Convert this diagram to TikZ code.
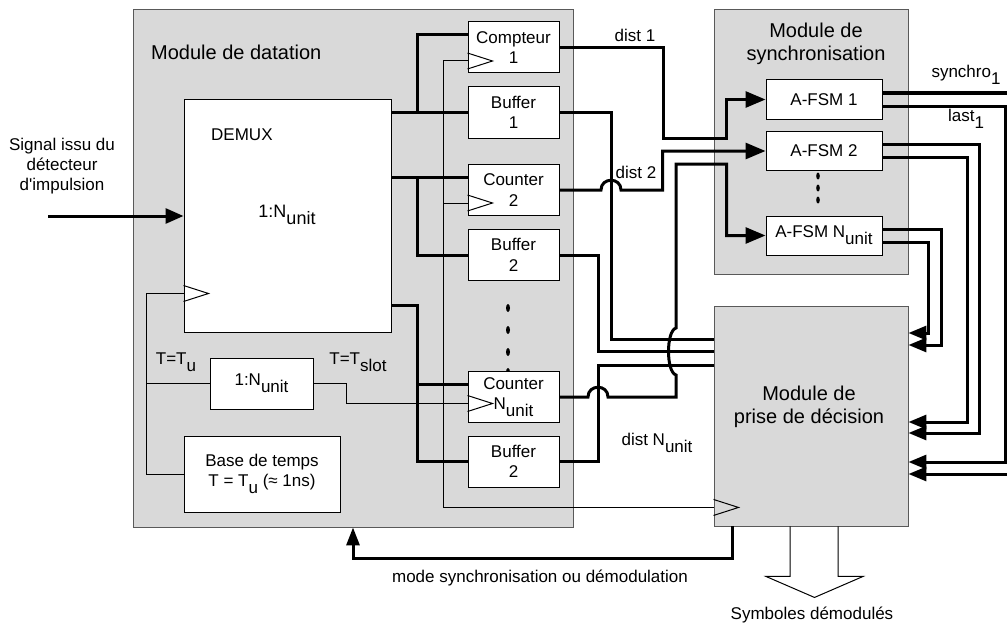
\documentclass[tikz,border=0pt]{standalone}
\usepackage{fontspec}
\setmainfont{Liberation Sans}
\usetikzlibrary{arrows.meta, calc, math}

\newcommand{\dn}[1]{\raisebox{-0.42em}{#1}}

\tikzset{
  module/.style={draw=black!65, fill=gray!30, line width=0.9pt, inner sep=0pt},
  blk/.style={draw, fill=white, line width=1pt, inner sep=0pt, align=center,
    font=\fontsize{17}{20.5}\selectfont},
  cell/.style={blk, minimum width=91pt, minimum height=51pt},
  fsm/.style={blk, minimum width=116pt, minimum height=39pt},
  txt/.style={align=center, inner sep=0pt, font=\fontsize{17}{20}\selectfont},
  ttl/.style={align=center, inner sep=0pt, font=\fontsize{20}{23.5}\selectfont},
  bus/.style={line width=3pt},
  wire/.style={line width=1pt},
  tipA/.style={-{Triangle[length=20pt,width=16pt]}},
  tipB/.style={-{Triangle[length=18pt,width=14pt]}},
  pics/clktri/.style={code={\draw[wire] (0,-8) -- (25,0) -- (0,8);}},
}

\begin{document}
\begin{tikzpicture}[x=1pt, y=-1pt]
\tikzmath{
\xa=417;
\xc=443;
\xl=146;
}
\useasboundingbox (0,0) rectangle (1007,626);

\coordinate (xa) at (\xa,0);
\coordinate (xc) at (\xc,0);
\coordinate (xl) at (\xl,0);

% modules
\node[module, minimum width=440pt, minimum height=518pt] (dat) at (353,268) {};
\node[module, minimum width=194pt, minimum height=265pt] (sync) at (811,141.5) {};
\node[module, minimum width=194pt, minimum height=220pt] (dec) at (811,416) {};

\node[ttl, anchor=west] (datT) at (151,52) {Module de datation};
\node[ttl] (syncT) at (816,44) {Module de\\synchronisation};
\node[ttl] (decT) at (809,407) {Module de\\prise de décision};

\foreach \y in {308,330,352,372} \fill (508,\y) ellipse (2 and 4);
\foreach \y in {176,188,200} \fill (818,\y) ellipse (1.8 and 3.5);

\node[blk, minimum width=207pt, minimum height=233pt] (demux) at (287.5,215.5) {};
\node[txt, anchor=west] (demuxT) at (211,135) {DEMUX};
\node[txt, font=\fontsize{18}{21}\selectfont] (demuxR) at (287,215) {1:N\dn{unit}};
\node[blk, minimum width=103pt, minimum height=51pt] (div) at (261.5,383.5) {1:N\dn{unit}};
\node[blk, minimum width=156pt, minimum height=76pt] (base) at (262,474) {Base de temps\\T = T\dn{u} (≈ 1ns)};

\node[cell] (cnt1) at (513.5,47.5) {Compteur\\1};
\node[cell] (buf1) at (513.5,112.5) {Buffer\\1};
\node[cell] (cnt2) at (513.5,190) {Counter\\2};
\node[cell] (buf2) at (513.5,255) {Buffer\\2};
\node[cell] (cntN) at (513.5,397) {Counter\\N\dn{unit}};
\node[cell] (bufN) at (513.5,461.5) {Buffer\\2};

\node[fsm] (fsm1) at (824,99.5) {A-FSM 1};
\node[fsm] (fsm2) at (824,151) {A-FSM 2};
\node[fsm] (fsmN) at (824,235.5) {A-FSM N\dn{unit}};

\node[txt] (sig) at (62,166) {Signal issu du\\détecteur\\d\textquotesingle impulsion};
\node[txt] (tu) at (176,362) {T=T\dn{u}};
\node[txt] (tslot) at (358,362) {T=T\dn{slot}};
\node[txt] (d1) at (635,35) {dist 1};
\node[txt] (d2) at (636,172) {dist 2};
\node[txt] (dN) at (657,443) {dist N\dn{unit}};
\node[txt] (s1) at (966,75) {synchro\dn{1}};
\node[txt] (l1) at (966,119) {last\dn{1}};
\node[txt] (mode) at (540,578) {mode synchronisation ou démodulation};
\node[txt] (sym) at (812,615) {Symboles démodulés};

% clocks
\coordinate (demuxC) at ($(demux.south west)+(0,-39)$);
\coordinate (decC) at ($(dec.south west)+(0,-19)$);
\pic at (demuxC) {clktri};
\pic at (decC) {clktri};
\foreach \n/\o in {cnt1/13.5, cnt2/13, cntN/6.5}{
  \coordinate (\n in) at ($(\n.west)+(0,-13)$);
  \coordinate (\n ck) at ($(\n.west)+(0,\o)$);
  \pic at (\n ck) {clktri};
}

\coordinate (in) at (48,216);
\draw[bus, -{Triangle[length=18pt,width=15pt]}] (in) -- (in -| demux.west);
\draw[wire] (demuxC) -| (xl |- base) -- (base.west);
\draw[wire] (div.west) -- (div.west -| xl);
\draw[wire] (div.east) -- ++(33,0) |- (cntNck);
\draw[wire] (cnt1ck) -| (xc |- decC) -- (decC);
\draw[wire] (cnt2ck) -- (cnt2ck -| xc);

% demux outputs
\draw[bus] (demux.east |- buf1) -- (buf1.west);
\draw[bus] (buf1.west -| xa) |- (cnt1in);
\draw[bus] (demux.east |- cnt2in) -- (cnt2in);
\draw[bus] (cnt2in -| xa) |- (buf2.west);
\coordinate (dout) at ($(demux.south east)+(0,-27)$);
\draw[bus] (dout) -| (xa |- bufN) -- (bufN.west);
\draw[bus] (cntNin -| xa) -- (cntNin);

% dist
\draw[bus, tipA] (cnt1.east) -| (663,138) -| ($(fsm1.west)+(-39,0)$) -- (fsm1.west);
\draw[bus, tipA] (cnt2.east) -- (601,190) .. controls (601,177) and (621,177) .. (621,190)
  -| ($(fsm2.west)+(-103,0)$) -- (fsm2.west);
\draw[bus, tipA] (cntN.east) -- (588,397) .. controls (588,384) and (608,384) .. (608,397)
  -- (676,397) -- (676,375) .. controls (666,372) and (666,331) .. (676,328)
  -- (676,164) -| ($(fsmN.west)+(-39,0)$) -- (fsmN.west);
\draw[bus] (buf1.east) -| (611,339) -- (dec.west |- 0,339);
\draw[bus] (buf2.east) -| (598,351) -- (dec.west |- 0,351);
\draw[bus] (bufN.east) -| (598,365) -- (dec.west |- 0,365);

% synchro / last
\coordinate (sOut) at (1007,93);
\coordinate (sIn) at (1007,474);
\draw[bus] (fsm1.east |- sOut) -- (sOut);
\draw[bus, tipB] ($(fsm1.east)+(0,6.5)$) -| (1005,462) -- (dec.east |- 0,462);
\draw[bus, tipB] (sIn) -- (dec.east |- sIn);
\draw[bus, tipB] ($(fsm2.east)+(0,-6.5)$) -| (979,433) -- (dec.east |- 0,433);
\draw[bus, tipB] ($(fsm2.east)+(0,6.5)$) -| (967,422) -- (dec.east |- 0,422);
\draw[bus, tipB] ($(fsmN.east)+(0,-6.5)$) -| (941,345) -- (dec.east |- 0,345);
\draw[bus, tipB] ($(fsmN.east)+(0,6.5)$) -| (928,333) -- (dec.east |- 0,333);

\draw[bus, -{Triangle[length=18pt,width=13pt]}] ($(dec.south west)+(19,0)$) |- ($(dat.south)+(0,31)$) -- (dat.south);

\draw[wire] ($(dec.south)+(-21,0)$) -- ++(0,50) -- ++(-24,0) -- ++(48.5,21) -- ++(48.5,-21) -- ++(-25,0) -- ++(0,-50);

\end{tikzpicture}
\end{document}
